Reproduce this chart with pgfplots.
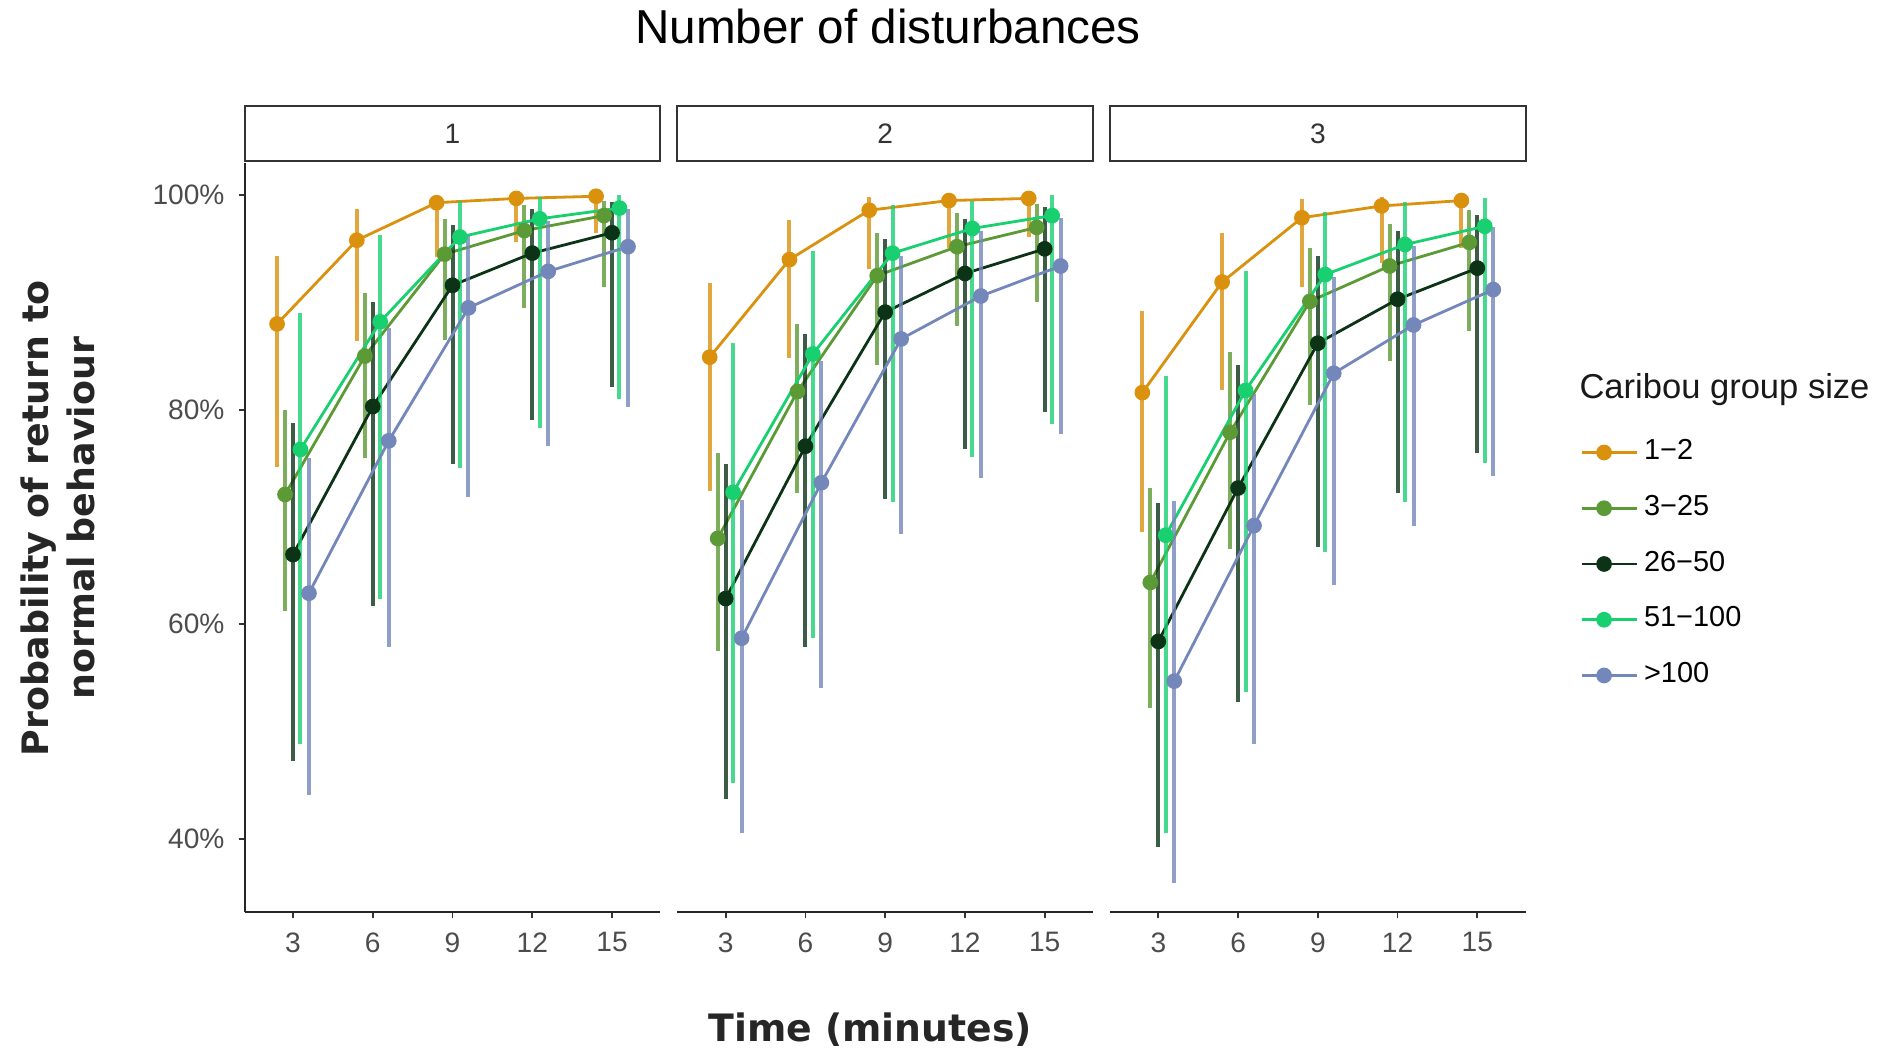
\documentclass[border=0pt]{standalone}
\usepackage{pgfplots}
\pgfplotsset{compat=1.18}
\usepackage{pgfplotstable}
\usepackage{fontspec}
\setmainfont{Liberation Sans}
\newfontfamily\djv{DejaVu Sans}

\definecolor{c12}{RGB}{218,145,14}
\definecolor{c325}{RGB}{91,154,53}
\definecolor{c2650}{RGB}{13,51,23}
\definecolor{c51}{RGB}{25,208,112}
\definecolor{c100}{RGB}{116,135,186}

% columns: t, then mean/lower/upper for each group size
% a = 1-2, b = 3-25, c = 26-50, d = 51-100, e = >100
\pgfplotstableread{
t  ay   alo  ahi   by   blo  bhi   cy   clo  chi   dy   dlo  dhi   ey   elo  ehi
3  88.0 74.7 94.3  72.1 61.2 80.0  66.5 47.3 78.8  76.3 48.8 89.0  62.9 44.1 75.5
6  95.8 86.4 98.7  85.0 75.5 90.9  80.3 61.7 90.0  88.2 62.4 96.3  77.1 57.9 87.6
9  99.3 94.2 99.9  94.5 86.5 97.8  91.6 74.9 97.2  96.1 74.6 99.5  89.5 71.9 96.2
12 99.7 95.6 100.0 96.7 89.5 99.1  94.6 79.0 98.7  97.8 78.3 99.8  92.9 76.6 97.6
15 99.9 96.5 100.0 98.1 91.4 99.5  96.5 82.1 99.4  98.8 81.0 100.0 95.2 80.3 98.7
}\pone
\pgfplotstableread{
t  ay   alo  ahi   by   blo  bhi   cy   clo  chi   dy   dlo  dhi   ey   elo  ehi
3  84.9 72.4 91.8  68.0 57.5 76.0  62.4 43.7 74.9  72.3 45.2 86.2  58.7 40.5 71.6
6  94.0 84.8 97.7  81.7 72.2 88.0  76.6 57.9 87.1  85.2 58.7 94.8  73.2 54.1 84.5
9  98.6 93.1 99.8  92.5 84.2 96.5  89.1 71.7 95.9  94.6 71.4 99.1  86.6 68.4 94.3
12 99.5 95.1 99.9  95.2 87.8 98.3  92.7 76.3 97.8  96.9 75.6 99.5  90.6 73.6 96.7
15 99.7 96.1 100.0 97.0 90.0 99.2  95.0 79.8 98.9  98.1 78.7 100.0 93.4 77.7 97.9
}\ptwo
\pgfplotstableread{
t  ay   alo  ahi   by   blo  bhi   cy   clo  chi   dy   dlo  dhi   ey   elo  ehi
3  81.6 68.6 89.2  63.9 52.2 72.7  58.4 39.2 71.3  68.3 40.5 83.1  54.7 35.9 71.5
6  91.9 81.8 96.5  77.9 67.0 85.4  72.7 52.8 84.2  81.8 53.7 92.9  69.2 48.8 81.5
9  97.9 91.4 99.6  90.1 80.4 95.1  86.2 67.2 94.3  92.6 66.7 98.4  83.4 63.7 92.4
12 99.0 93.7 99.8  93.4 84.5 97.3  90.3 72.2 96.7  95.4 71.4 99.4  87.9 69.2 95.3
15 99.5 95.1 99.9  95.6 87.3 98.6  93.2 76.0 98.2  97.1 75.0 99.7  91.2 73.8 97.0
}\pthree

% error-bar lengths from the interval ends, and dodged x positions
\newcommand{\mkerr}[3]{%
  \pgfplotstablecreatecol[create col/expr={\thisrow{#2hi}-\thisrow{#2y}}]{#2p}#1%
  \pgfplotstablecreatecol[create col/expr={\thisrow{#2y}-\thisrow{#2lo}}]{#2m}#1%
  \pgfplotstablecreatecol[create col/expr={\thisrow{t}+#3}]{#2x}#1%
}
\newcommand{\mkall}[1]{%
  \mkerr{#1}{a}{-0.6}\mkerr{#1}{b}{-0.3}\mkerr{#1}{c}{0}%
  \mkerr{#1}{d}{0.28}\mkerr{#1}{e}{0.6}}
\mkall{\pone}\mkall{\ptwo}\mkall{\pthree}

\pgfplotsset{
  panel/.style={
    anchor=south west,
    scale only axis,
    width=103.5pt, height=186.6pt,
    xmin=1.18, xmax=16.82, ymin=33.15, ymax=103.03,
    axis x line*=bottom, axis y line*=left,
    axis line style={-, line width=0.45pt, black!85},
    xtick={3,6,9,12,15}, ytick={40,60,80,100},
    yticklabel={\pgfmathprintnumber{\tick}\%},
    /pgf/number format/assume math mode=true,
    tick align=outside, major tick length=1.5pt,
    tick style={black!80, line width=0.45pt},
    tick label style={font=\fontsize{7}{8}\selectfont, text=black!70},
    clip=false,
  },
  grp/.style={#1, line width=0.7pt, mark=*, mark size=1.6pt,
    error bars/.cd, y dir=both, y explicit, error mark=none,
    error bar style={line width=1pt, opacity=0.8}},
}

\newcommand{\series}[1]{%
  \addplot[grp=c12] table[x=ax, y=ay, y error plus=ap, y error minus=am] {#1};
  \addplot[grp=c325] table[x=bx, y=by, y error plus=bp, y error minus=bm] {#1};
  \addplot[grp=c2650] table[x=cx, y=cy, y error plus=cp, y error minus=cm] {#1};
  \addplot[grp=c51] table[x=dx, y=dy, y error plus=dp, y error minus=dm] {#1};
  \addplot[grp=c100] table[x=ex, y=ey, y error plus=ep, y error minus=em] {#1};
}

\begin{document}
\begin{tikzpicture}
\useasboundingbox (0,0) rectangle (468pt,260.7pt);

% strips
\foreach \xx/\lab in {60.9/1, 168.6/2, 276.3/3}{
  \draw[line width=0.5pt, black!80] (\xx pt,220.5pt) rectangle ++(103.5pt,13.8pt);
  \node[font=\fontsize{7}{8}\selectfont, text=black!80] at (\xx pt+51.75pt,227.4pt) {\lab};
}

\begin{axis}[panel, at={(60.9pt,33.6pt)}]
\series{\pone}
\end{axis}

\begin{axis}[panel, at={(168.6pt,33.6pt)}, hide y axis]
\series{\ptwo}
\end{axis}

\begin{axis}[panel, at={(276.3pt,33.6pt)}, hide y axis,
  legend style={at={(axis description cs:1.13,0.64)}, anchor=north west,
    draw=none, fill=none, inner sep=0pt, row sep=4.35pt,
    font=\fontsize{7.2}{8}\selectfont, nodes={inner sep=1.5pt}},
  legend cell align=left,
  legend image code/.code={\draw[mark repeat=2,mark phase=2,#1] plot coordinates {(0pt,0pt) (5.5pt,0pt) (11pt,0pt)};
    \path (0pt,0pt) -- (13.6pt,0pt);}]
\series{\pthree}
\legend{1−2, 3−25, 26−50, 51−100, >100}
\end{axis}

\node[anchor=west, inner sep=0pt, font=\fontsize{8.6}{10}\selectfont, text=black!90] at (393pt,163.8pt) {Caribou group size};
\node[inner sep=0pt, font=\fontsize{11.85}{14}\selectfont] at (221.1pt,254.1pt) {Number of disturbances};
\node[inner sep=0pt, font=\djv\bfseries\fontsize{9.4}{11}\selectfont, text=black!85] at (216.6pt,4.4pt) {Time (minutes)};
\node[inner sep=0pt, rotate=90, align=center, font=\djv\bfseries\fontsize{9.06}{11.4}\selectfont, text=black!85] at (14.4pt,131.7pt) {Probability of return to\\normal behaviour};
\end{tikzpicture}
\end{document}
